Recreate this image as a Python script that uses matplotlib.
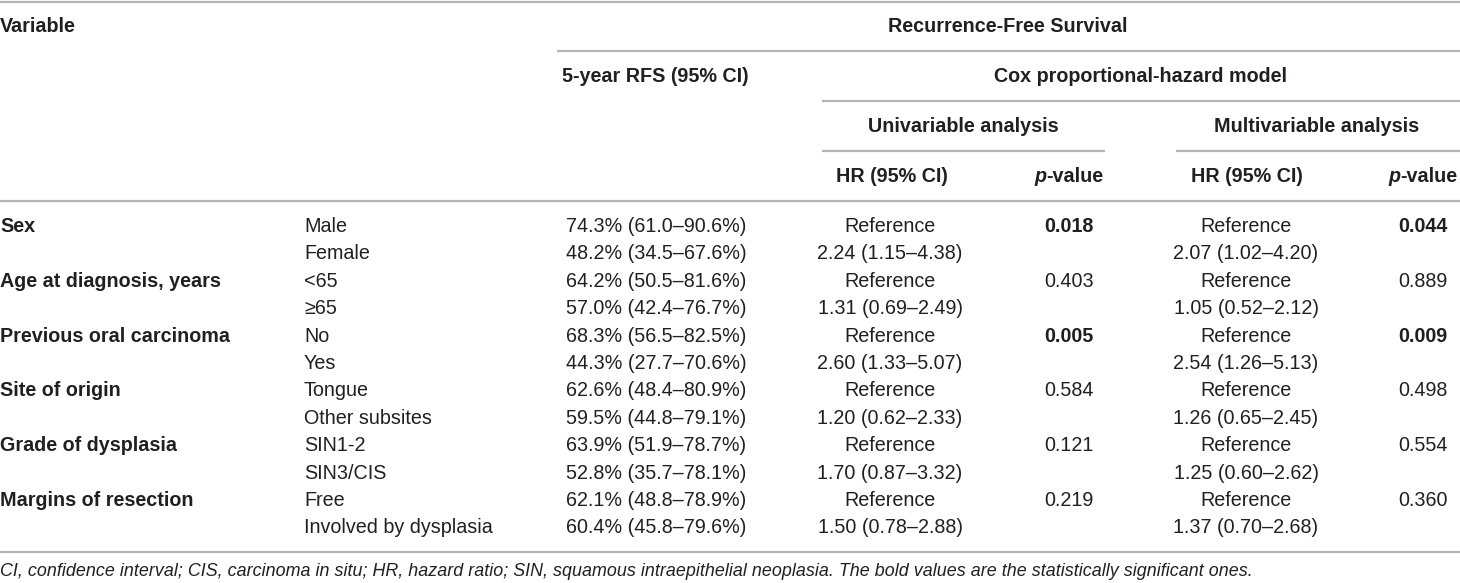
import matplotlib
matplotlib.use("Agg")
import matplotlib.pyplot as plt

# ---------------- data ----------------
variables = ["Sex", "Age at diagnosis, years", "Previous oral carcinoma",
             "Site of origin", "Grade of dysplasia", "Margins of resection"]
levels = ["Male", "Female", "<65", "≥65", "No", "Yes", "Tongue", "Other subsites",
          "SIN1-2", "SIN3/CIS", "Free", "Involved by dysplasia"]
rfs_5y = ["74.3% (61.0–90.6%)", "48.2% (34.5–67.6%)", "64.2% (50.5–81.6%)",
          "57.0% (42.4–76.7%)", "68.3% (56.5–82.5%)", "44.3% (27.7–70.6%)",
          "62.6% (48.4–80.9%)", "59.5% (44.8–79.1%)", "63.9% (51.9–78.7%)",
          "52.8% (35.7–78.1%)", "62.1% (48.8–78.9%)", "60.4% (45.8–79.6%)"]
uni_hr = ["Reference", "2.24 (1.15–4.38)", "Reference", "1.31 (0.69–2.49)",
          "Reference", "2.60 (1.33–5.07)", "Reference", "1.20 (0.62–2.33)",
          "Reference", "1.70 (0.87–3.32)", "Reference", "1.50 (0.78–2.88)"]
uni_p = ["0.018", "0.403", "0.005", "0.584", "0.121", "0.219"]
multi_hr = ["Reference", "2.07 (1.02–4.20)", "Reference", "1.05 (0.52–2.12)",
            "Reference", "2.54 (1.26–5.13)", "Reference", "1.26 (0.65–2.45)",
            "Reference", "1.25 (0.60–2.62)", "Reference", "1.37 (0.70–2.68)"]
multi_p = ["0.044", "0.889", "0.009", "0.498", "0.554", "0.360"]
uni_sig = [True, False, True, False, False, False]
multi_sig = [True, False, True, False, False, False]
footnote = ("CI, confidence interval; CIS, carcinoma in situ; HR, hazard ratio; SIN, "
            "squamous intraepithelial neoplasia. The bold values are the statistically "
            "significant ones.")

# ---------------- layout ----------------
W, H = 1460, 583
TXT = "#231f20"
LINE = "#b4b4b4"
FS = 14.2
FAM = "Liberation Sans"

fig = plt.figure(figsize=(W / 100, H / 100), dpi=100)
ax = fig.add_axes([0, 0, 1, 1])
ax.set_xlim(0, W)
ax.set_ylim(H, 0)
ax.axis("off")


def hline(y, x0, x1):
    ax.plot([x0, x1], [y, y], color=LINE, lw=1.6, solid_capstyle="butt")


def txt(x, y, s, ha="left", bold=False, italic=False, size=FS):
    return ax.text(x, y, s, ha=ha, va="center", fontsize=size, family=FAM,
                   color=TXT, fontweight="bold" if bold else "normal",
                   fontstyle="italic" if italic else "normal")


renderer = fig.canvas.get_renderer()


def pvalue_header(xc, y):
    t1 = txt(0, y, "p", bold=True, italic=True)
    t2 = txt(0, y, "-value", bold=True)
    w1 = t1.get_window_extent(renderer).width
    w2 = t2.get_window_extent(renderer).width
    x0 = xc - (w1 + w2) / 2
    t1.set_x(x0)
    t2.set_x(x0 + w1)


# rules
hline(1.5, 0, W)
hline(51, 557, W)
hline(101, 822, W)
hline(151, 822, 1105)
hline(151, 1176, W)
hline(201, 0, W)
hline(552, 0, W)

# header text
txt(0, 26, "Variable", bold=True)
txt(1008, 26, "Recurrence-Free Survival", ha="center", bold=True)
txt(655, 77, "5-year RFS (95% CI)", ha="center", bold=True)
txt(1140, 77, "Cox proportional-hazard model", ha="center", bold=True)
txt(963, 127, "Univariable analysis", ha="center", bold=True)
txt(1317, 127, "Multivariable analysis", ha="center", bold=True)
txt(892, 177, "HR (95% CI)", ha="center", bold=True)
txt(1247, 177, "HR (95% CI)", ha="center", bold=True)
pvalue_header(1069, 177)
pvalue_header(1423, 177)

# body
y0, dy = 226.5, 27.4
for i in range(len(levels)):
    y = y0 + i * dy
    if i % 2 == 0:
        g = i // 2
        txt(0, y, variables[g], bold=True)
        txt(1069, y, uni_p[g], ha="center", bold=uni_sig[g])
        txt(1423, y, multi_p[g], ha="center", bold=multi_sig[g])
    txt(304, y, levels[i])
    txt(656, y, rfs_5y[i], ha="center")
    txt(890, y, uni_hr[i], ha="center")
    txt(1246, y, multi_hr[i], ha="center")

txt(0, 571, footnote, italic=True, size=12.9)

fig.savefig("out.png", dpi=100)
